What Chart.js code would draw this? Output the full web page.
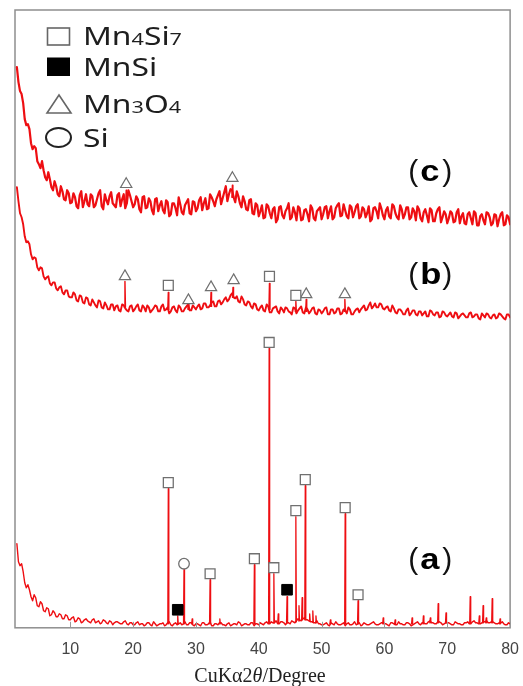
<!DOCTYPE html>
<html>
<head>
<meta charset="utf-8">
<script src="https://cdn.jsdelivr.net/npm/chart.js@4/dist/chart.umd.min.js"></script>
<style>
html,body{margin:0;padding:0;background:#fff;}
#wrap{width:523px;height:686px;}
canvas{display:block;}
</style>
</head>
<body>
<div id="wrap"><canvas id="c" width="523" height="686"></canvas></div>
<script>
// 2θ sampling grid (degrees), main and intermediate steps
const angles = [
 1.5,2,2.5,3,3.5,4,4.5,5,5.5,6,6.5,7,7.5,8,8.5,9,9.5,10,
 10.5,11,11.5,12,12.5,13,13.5,14,14.5,15,15.5,16,16.5,17,17.5,18,18.5,19,19.5,20,
 20.5,21,21.5,22,22.5,23,23.5,24,24.5,25,25.5,26,26.5,27,27.5,28,28.5,29,29.5,30,
 30.5,31,31.5,32,32.5,33,33.5,34,34.5,35,35.5,36,36.5,37,37.5,38,38.5,39,39.5,40,
 40.5,41,41.5,42,42.5,43,43.5,44,44.5,45,45.5,46,46.5,47,47.5,48,48.5,49,49.5,50,
 50.5,51,51.5,52,52.5,53,53.5,54,54.5,55,55.5,56,56.5,57,57.5,58,58.5,59,59.5,60,
 60.5,61,61.5,62,62.5,63,63.5,64,64.5,65,65.5,66,66.5,67,67.5,68,68.5,69,69.5,70,
 70.5,71,71.5,72,72.5,73,73.5,74,74.5,75,75.5,76,76.5,77,77.5,78,78.5,79,79.5,80
];
const anglesMid = [
 1.75,2.25,2.75,3.25,3.75,4.25,4.75,5.25,5.75,6.25,6.75,7.25,7.75,8.25,8.75,9.25,9.75,
 10.25,10.75,11.25,11.75,12.25,12.75,13.25,13.75,14.25,14.75,15.25,15.75,16.25,16.75,17.25,17.75,18.25,18.75,19.25,19.75,
 20.25,20.75,21.25,21.75,22.25,22.75,23.25,23.75,24.25,24.75,25.25,25.75,26.25,26.75,27.25,27.75,28.25,28.75,29.25,29.75,
 30.25,30.75,31.25,31.75,32.25,32.75,33.25,33.75,34.25,34.75,35.25,35.75,36.25,36.75,37.25,37.75,38.25,38.75,39.25,39.75,
 40.25,40.75,41.25,41.75,42.25,42.75,43.25,43.75,44.25,44.75,45.25,45.75,46.25,46.75,47.25,47.75,48.25,48.75,49.25,49.75,
 50.25,50.75,51.25,51.75,52.25,52.75,53.25,53.75,54.25,54.75,55.25,55.75,56.25,56.75,57.25,57.75,58.25,58.75,59.25,59.75,
 60.25,60.75,61.25,61.75,62.25,62.75,63.25,63.75,64.25,64.75,65.25,65.75,66.25,66.75,67.25,67.75,68.25,68.75,69.25,69.75,
 70.25,70.75,71.25,71.75,72.25,72.75,73.25,73.75,74.25,74.75,75.25,75.75,76.25,76.75,77.25,77.75,78.25,78.75,79.25,79.75
];
// stacked intensities (a.u.) — pattern (a)
const intensityA = [
 84,62,56,40,38,27,30,21,24,16,19,13,15,11,13,9,12,8,
 11,7,9,6,9,6,8,5,7,5,7,4,6,5,6,4,6,4,5,3,
 5,3,4,3,5,2,4,3,4,2,5,3,4,3,5,4,3,5,3,4,
 3,5,3,4,2,4,3,5,3,4,2,4,3,5,3,4,3,5,4,3,
 4,5,4,6,5,4,6,5,5,4,6,7,8,9,8,7,6,5,4,3,
 4,3,5,3,4,3,5,4,3,4,3,5,3,4,3,5,4,3,5,4,
 3,5,4,3,4,3,5,4,3,5,4,5,4,6,5,4,6,5,4,5,
 4,3,5,4,3,5,4,6,5,4,5,6,5,6,5,4,5,4,3,4
];
const intensityAMid = [
 66,64,45,43,31,33,22,26,17,20,12,17,11,14,9,13,8,
 10,6,10,5,8,7,5,9,6,4,8,5,7,3,6,5,4,7,3,5,
 3,6,4,2,5,3,6,2,4,5,3,6,2,5,4,3,6,3,5,2,
 4,2,5,3,6,2,4,5,3,2,5,3,4,6,2,4,3,5,2,4,
 5,3,6,4,5,7,4,6,3,5,7,5,9,7,10,8,6,5,7,4,
 3,5,2,4,6,3,4,2,5,3,6,4,2,5,3,4,6,3,4,5,
 4,2,5,3,6,4,3,5,2,4,6,3,5,4,7,5,4,6,3,5,
 5,3,6,4,3,5,6,4,7,5,4,6,7,5,6,4,5,6,3,5
];
// pattern (b)
const intensityB = [
 440,414,403,385,383,368,369,357,359,348,351,342,345,337,341,333,337,330,
 335,327,332,325,330,323,328,322,327,320,325,318,323,317,322,316,322,317,321,316,
 321,317,322,316,320,317,322,316,321,317,320,316,321,315,320,316,321,317,322,318,
 323,319,324,320,325,321,326,323,328,326,332,330,331,325,328,322,325,319,323,317,
 322,316,321,315,320,316,320,315,319,315,320,314,319,315,320,314,319,314,318,314,
 319,313,318,314,319,313,318,314,318,313,318,315,320,317,322,319,324,320,323,318,
 321,316,319,314,318,313,317,312,317,313,316,312,316,311,316,312,315,311,315,311,
 315,310,314,311,314,310,314,310,313,309,314,310,313,309,313,310,313,309,313,310
];
const intensityBMid = [
 426,410,391,386,373,370,360,360,351,350,344,345,339,340,335,337,331,
 330,333,326,331,324,329,322,325,320,326,319,322,318,323,321,317,323,319,316,322,
 318,323,316,320,322,315,319,321,316,323,318,314,320,317,322,316,319,323,317,320,
 321,318,324,320,322,326,321,327,325,330,328,334,329,326,331,323,326,321,324,318,
 320,317,323,315,319,321,314,318,320,316,313,319,317,321,314,318,316,320,313,317,
 316,320,313,318,315,319,314,317,320,313,316,319,318,322,318,325,321,320,324,319,
 320,317,322,315,318,316,313,319,314,317,312,316,314,311,317,313,315,310,316,312,
 313,311,315,309,313,312,310,315,311,313,308,312,314,310,312,309,314,311,308,313
];
// pattern (c)
const intensityC = [
 560,536,524,502,498,478,479,463,466,450,455,440,446,433,441,428,437,424,
 434,421,432,420,433,421,431,422,434,421,433,423,435,422,432,421,433,424,432,420,
 431,418,430,419,429,417,428,416,426,414,425,413,424,412,423,413,425,414,426,416,
 427,417,429,419,430,421,432,423,435,426,438,430,436,424,431,418,427,414,424,411,
 422,410,421,409,420,408,421,409,419,408,420,407,419,408,418,406,419,407,418,408,
 420,409,421,410,422,411,423,411,422,410,421,409,420,410,421,408,420,409,419,408,
 420,409,421,410,422,409,420,408,419,407,418,406,418,405,417,406,418,405,416,404,
 416,405,415,404,414,403,415,403,414,402,413,403,414,402,413,401,413,402,412,403
];
const intensityCMid = [
 545,533,508,503,484,481,466,459,457,447,448,437,441,431,436,427,434,
 425,430,419,436,426,423,433,420,428,437,418,427,431,424,420,434,428,419,437,426,
 423,428,415,431,420,426,413,429,422,417,427,411,424,419,430,415,422,428,413,425,
 419,430,424,418,433,426,428,436,429,441,433,437,425,431,420,426,417,428,413,422,
 416,409,423,414,418,405,420,412,416,424,410,415,421,407,417,413,422,409,416,420,
 413,421,416,408,419,424,412,417,409,420,415,423,411,418,414,406,419,416,424,412,
 417,411,423,414,408,418,413,420,410,416,421,409,415,412,419,406,414,420,410,413,
 409,414,406,418,411,404,413,409,416,402,411,407,415,410,404,412,408,415,403,410
];
// diffraction peaks [2θ, peak top, local background]
const peaksA = [[25.6,139,4],[27.1,12,4],[28.1,58,4],[29.4,9,4],[32.25,48,4],[33.8,9,4],[39.3,63,4],[41.65,279,5],[42.4,54,5],[43.1,14,5],[44.5,31,5],[45.9,111,6],[46.4,22,7],[46.9,30,8],[47.4,142,8],[48.1,14,7],[48.6,17,6],[49.1,12,5],[51.4,8,4],[53.75,114,4],[55.8,27,4],[59.8,10,4],[61.7,8,4],[64.4,10,4],[66.2,12,4],[67.3,10,5],[68.55,24,5],[69.8,15,5],[73.65,31,5],[75.1,12,5],[75.7,22,5],[76.2,10,5],[77.15,29,5],[78.4,9,4]];
const peaksB = [[18.7,346,320],[25.6,335,318],[28.8,326,318],[32.4,335,321],[35.9,340,330],[41.7,344,318],[45.9,326,316],[47.55,328,316],[53.7,328,316]];
const peaksC = [[18.9,437,424],[35.8,442,430]];
// phase markers [2θ, marker height]
const markMn4Si7 = [[25.6,145],[32.25,54],[39.3,69],[41.65,285],[42.4,60],[45.9,117],[47.4,148],[53.75,120],[55.8,33],[25.6,342],[41.7,351],[45.9,332]];
const markMnSi = [[27.1,18],[44.5,38]];
const markMn3O4 = [[18.7,351],[28.8,327],[32.4,340],[36.0,347],[47.55,333],[53.7,333],[18.9,443],[35.8,449]];
const markSi = [[28.1,64]];
// axis ticks and labels
const xTicks = [10,20,30,40,50,60,70,80];
const legendNames = ['Mn4Si7','MnSi','Mn3O4','Si'];
const panelNames = ['c','b','a'];

const RED = 'rgb(238,14,18)';
const toPts = (vals, mids) => angles.map((a,i)=>({x:a,y:vals[i]}))
  .concat(anglesMid.map((a,i)=>({x:a,y:mids[i]}))).sort((p,q)=>p.x-q.x);
const peakPts = peaks => peaks.flatMap(p=>[{x:p[0]-0.08,y:p[2]},{x:p[0],y:p[1]},{x:p[0]+0.08,y:p[2]},{x:p[0]+0.09,y:null}]);
const toMarks = arr => arr.map(p=>({x:p[0],y:p[1]}));
const lineDs = (label, pts, w) => ({label, data:pts, showLine:true, borderColor:RED, borderWidth:w,
  borderJoinStyle:'round', borderCapStyle:'round', spanGaps:false,
  pointRadius:0, pointHoverRadius:0, tension:0, order:2});
const markDs = (label, arr, style, r, fill, stroke, bw) => ({label, data:toMarks(arr), showLine:false,
  pointStyle:style, pointRadius:r, pointHoverRadius:r, backgroundColor:fill, borderColor:stroke, borderWidth:bw, order:0});

function chemParts(str){ return str.match(/[A-Za-z]+|\d+/g); }
function drawChem(ctx, str, x, base, big, small, sx){
  ctx.save(); ctx.translate(x, base); ctx.scale(sx,1);
  let cx = 0;
  for (const m of chemParts(str)) {
    ctx.font = (/\d/.test(m)?small:big) + 'px "Noto Sans"';
    ctx.fillText(m, cx, 0);
    cx += ctx.measureText(m).width;
  }
  ctx.restore();
}
function chemWidth(ctx, str, big, small){
  let w = 0;
  for (const m of chemParts(str)) {
    ctx.font = (/\d/.test(m)?small:big) + 'px "Noto Sans"';
    w += ctx.measureText(m).width;
  }
  return w;
}

const decor = {
  id:'decor',
  beforeDatasetsDraw(chart){
    const {ctx, chartArea:a} = chart;
    ctx.save();
    ctx.strokeStyle = '#8e8e8e'; ctx.lineWidth = 1.5;
    ctx.strokeRect(a.left, a.top, a.right-a.left, a.bottom-a.top);
    ctx.restore();
  },
  afterDraw(chart){
    const {ctx, chartArea:a, scales:{x,y}} = chart;
    ctx.save();
    // inner tick marks
    ctx.strokeStyle = '#9a9a9a'; ctx.lineWidth = 1;
    xTicks.forEach(v=>{ const px = Math.round(x.getPixelForValue(v))+0.5;
      ctx.beginPath(); ctx.moveTo(px,a.bottom); ctx.lineTo(px,a.bottom-6); ctx.stroke(); });
    // legend
    ctx.textBaseline = 'alphabetic';
    const sx = 99/chemWidth(ctx, legendNames[0], 25, 17);
    const rows = [45, 76, 113, 147];
    ctx.strokeStyle = '#666'; ctx.lineWidth = 1.6;
    ctx.strokeRect(47.5, 28, 22, 17);
    ctx.fillStyle = '#000'; ctx.fillRect(47, 57.5, 23, 18.5);
    ctx.beginPath(); ctx.moveTo(59,95); ctx.lineTo(71,113); ctx.lineTo(47,113); ctx.closePath(); ctx.stroke();
    ctx.strokeStyle = '#222'; ctx.lineWidth = 2;
    ctx.beginPath(); ctx.ellipse(58.5,137.5,12.5,9.5,0,0,Math.PI*2); ctx.stroke();
    ctx.fillStyle = '#1e1e1e';
    legendNames.forEach((n,i)=>drawChem(ctx, n, 83, rows[i], 25, 17, sx));
    // panel labels
    const lv = [454, 352, 67];
    const lx = x.getPixelForValue(63.8);
    ctx.textBaseline = 'middle'; ctx.fillStyle = '#111';
    panelNames.forEach((n,i)=>{
      const py = y.getPixelForValue(lv[i]);
      ctx.font = '30px "Liberation Sans"';
      ctx.fillText('(', lx, py);
      ctx.fillText(')', lx+34, py);
      ctx.save(); ctx.translate(lx+12, py); ctx.scale(1.15,1);
      ctx.font = 'bold 30px "Liberation Sans"'; ctx.fillStyle = '#000';
      ctx.fillText(n, 0, 0); ctx.restore();
    });
    // x axis title
    ctx.textBaseline = 'alphabetic'; ctx.fillStyle = '#222';
    const parts = [['CuKα2','20px "Liberation Serif"'],['θ','italic 20px "Liberation Serif"'],['/Degree','20px "Liberation Serif"']];
    let w = 0; parts.forEach(p=>{ctx.font=p[1]; w+=ctx.measureText(p[0]).width;});
    let tx = 260 - w/2;
    parts.forEach(p=>{ctx.font=p[1]; ctx.fillText(p[0], tx, 682); tx+=ctx.measureText(p[0]).width;});
    ctx.restore();
  }
};

new Chart(document.getElementById('c'), {
  type:'scatter',
  data:{ datasets:[
    markDs('Mn4Si7', markMn4Si7, 'rect', 7, '#fff', '#707070', 1.3),
    markDs('MnSi', markMnSi, 'rect', 7.5, '#000', '#000', 1),
    markDs('Mn3O4', markMn3O4, 'triangle', 6.5, '#fff', '#707070', 1.2),
    markDs('Si', markSi, 'circle', 5.3, '#fff', '#707070', 1.3),
    lineDs('(c) peaks', peakPts(peaksC), 1.4),
    lineDs('(b) peaks', peakPts(peaksB), 1.4),
    lineDs('(a) peaks', peakPts(peaksA), 1.3),
    lineDs('(c)', toPts(intensityC, intensityCMid), 2.2),
    lineDs('(b)', toPts(intensityB, intensityBMid), 1.9),
    lineDs('(a)', toPts(intensityA, intensityAMid), 1.4)
  ]},
  options:{
    responsive:false, animation:false, devicePixelRatio:1,
    layout:{padding:{left:15, right:5, top:10, bottom:23}},
    plugins:{legend:{display:false}, tooltip:{enabled:false}},
    scales:{
      x:{type:'linear', min:1.2, max:80,
         grid:{display:false}, border:{display:false},
         ticks:{stepSize:10, includeBounds:false, padding:4, color:'#444', font:{family:'"Liberation Sans"', size:16}}},
      y:{type:'linear', min:0, max:617, display:false}
    }
  },
  plugins:[decor]
});
</script>
</body>
</html>
